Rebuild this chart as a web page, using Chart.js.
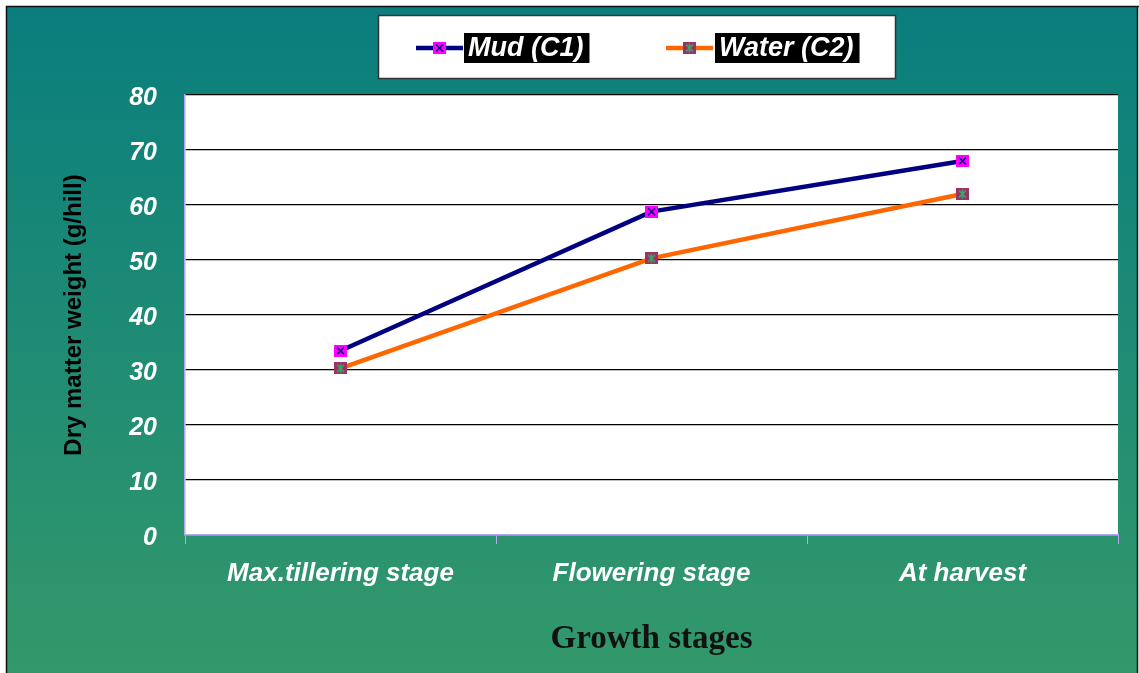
<!DOCTYPE html>
<html>
<head>
<meta charset="utf-8">
<script src="https://cdn.jsdelivr.net/npm/chart.js@4"></script>
<style>
  html, body { margin: 0; padding: 0; background: #fff; }
  #wrap { width: 1139px; height: 673px; }
</style>
</head>
<body>
<div id="wrap"><canvas id="chartDry" width="1139" height="673"></canvas></div>
<script>
// Dry matter weight by growth stage
const stages = ['Max.tillering stage', 'Flowering stage', 'At harvest'];
const mudC1 = [33.5, 58.8, 68.0];
const waterC2 = [30.3, 50.3, 62.0];
const seriesNames = ['Mud (C1)', 'Water (C2)'];
const yMin = 0, yMax = 80, yStep = 10;

const SANS = "'Liberation Sans', Arial, sans-serif";
const lavender = '#b4a8ee';

// marker images: filled square with a cross / asterisk on top
function makeMarker(fill, stroke, star) {
    const c = document.createElement('canvas');
    c.width = 13; c.height = 12;
    const g = c.getContext('2d');
    g.fillStyle = fill;
    g.fillRect(0, 0, 13, 12);
    g.strokeStyle = stroke;
    g.lineWidth = 1.6;
    g.beginPath();
    g.moveTo(3, 2.5); g.lineTo(10, 9.5);
    g.moveTo(10, 2.5); g.lineTo(3, 9.5);
    if (star) { g.moveTo(6.5, 1.5); g.lineTo(6.5, 10.5); }
    g.stroke();
    return c;
}
const mudMarker = makeMarker('#ff00ff', '#000080', false);
const waterMarker = makeMarker('#993366', '#33aa66', true);

const backdrop = {
    id: 'backdrop',
    beforeDraw(chart) {
        const ctx = chart.ctx, a = chart.chartArea;
        ctx.save();
        ctx.fillStyle = '#fff';
        ctx.fillRect(0, 0, chart.width, chart.height);
        const grad = ctx.createLinearGradient(0, 7, 0, chart.height);
        grad.addColorStop(0, '#0a7e7e');
        grad.addColorStop(1, '#33986a');
        ctx.fillStyle = grad;
        ctx.fillRect(7, 7, chart.width - 9, chart.height - 7);
        ctx.strokeStyle = '#111';
        ctx.lineWidth = 1.5;
        ctx.beginPath();
        ctx.moveTo(6.5, chart.height); ctx.lineTo(6.5, 6.5); ctx.lineTo(chart.width, 6.5);
        ctx.moveTo(chart.width - 1.5, 6.5); ctx.lineTo(chart.width - 1.5, chart.height);
        ctx.stroke();
        ctx.fillStyle = '#fff';
        ctx.fillRect(a.left, a.top, a.right - a.left, a.bottom - a.top);
        ctx.restore();
    }
};

// boxed legend with black label plates
const boxLegend = {
    id: 'boxLegend',
    afterDraw(chart) {
        const ctx = chart.ctx;
        ctx.save();
        ctx.fillStyle = '#fff';
        ctx.fillRect(378, 15, 518, 64);
        ctx.strokeStyle = '#333';
        ctx.lineWidth = 1.5;
        ctx.strokeRect(378.5, 15.5, 517, 63);
        const items = [
            { x: 416, color: '#000080', img: mudMarker, plate: 464 },
            { x: 666, color: '#ff6600', img: waterMarker, plate: 715 }
        ];
        ctx.font = 'italic bold 27px ' + SANS;
        ctx.textBaseline = 'middle';
        items.forEach((it, i) => {
            ctx.strokeStyle = it.color;
            ctx.lineWidth = 4.5;
            ctx.beginPath();
            ctx.moveTo(it.x, 48); ctx.lineTo(it.x + 47, 48);
            ctx.stroke();
            ctx.drawImage(it.img, it.x + 17, 42);
            const w = ctx.measureText(seriesNames[i]).width;
            ctx.fillStyle = '#000';
            ctx.fillRect(it.plate, 33, w + 10, 30);
            ctx.fillStyle = '#fff';
            ctx.fillText(seriesNames[i], it.plate + 4, 49);
        });
        ctx.restore();
    }
};

new Chart(document.getElementById('chartDry').getContext('2d'), {
    type: 'line',
    data: {
        labels: stages,
        datasets: [{
            label: seriesNames[0],
            data: mudC1,
            borderColor: '#000080',
            backgroundColor: '#000080',
            borderWidth: 4.5,
            tension: 0,
            pointStyle: mudMarker,
            pointRadius: 6,
            fill: false
        }, {
            label: seriesNames[1],
            data: waterC2,
            borderColor: '#ff6600',
            backgroundColor: '#ff6600',
            borderWidth: 4.5,
            tension: 0,
            pointStyle: waterMarker,
            pointRadius: 6,
            fill: false
        }]
    },
    options: {
        responsive: false,
        animation: false,
        layout: {
            padding: { top: 95, right: 21, left: 0, bottom: 0 }
        },
        plugins: {
            legend: { display: false },
            title: { display: false },
            tooltip: { enabled: true }
        },
        scales: {
            x: {
                offset: true,
                grid: {
                    offset: true,
                    drawOnChartArea: false,
                    drawTicks: true,
                    tickLength: 9,
                    color: lavender
                },
                border: { color: lavender, width: 1.5 },
                ticks: {
                    color: '#fff',
                    padding: 14,
                    font: { family: SANS, size: 26, style: 'italic', weight: 'bold' }
                },
                title: {
                    display: true,
                    text: 'Growth stages',
                    color: '#111',
                    padding: { top: 0, bottom: 14 },
                    font: { family: "'Liberation Serif', 'Times New Roman', serif", size: 33, weight: 'bold' }
                },
                afterFit: function (scale) { scale.height = 138; }
            },
            y: {
                min: yMin,
                max: yMax,
                ticks: {
                    stepSize: yStep,
                    color: '#fff',
                    padding: 28,
                    labelOffset: 3,
                    font: { family: SANS, size: 25, style: 'italic', weight: 'bold' }
                },
                grid: {
                    drawTicks: false,
                    color: function (ctx) { return ctx.tick && ctx.tick.value === 0 ? lavender : '#000'; },
                    lineWidth: 1.2
                },
                border: { color: lavender, width: 1.5 },
                title: {
                    display: true,
                    text: 'Dry matter weight (g/hill)',
                    color: '#000',
                    padding: { top: 60, bottom: 0 },
                    font: { family: SANS, size: 24, weight: 'bold' }
                },
                afterFit: function (scale) { scale.width = 185; }
            }
        }
    },
    plugins: [backdrop, boxLegend]
});
</script>
</body>
</html>
